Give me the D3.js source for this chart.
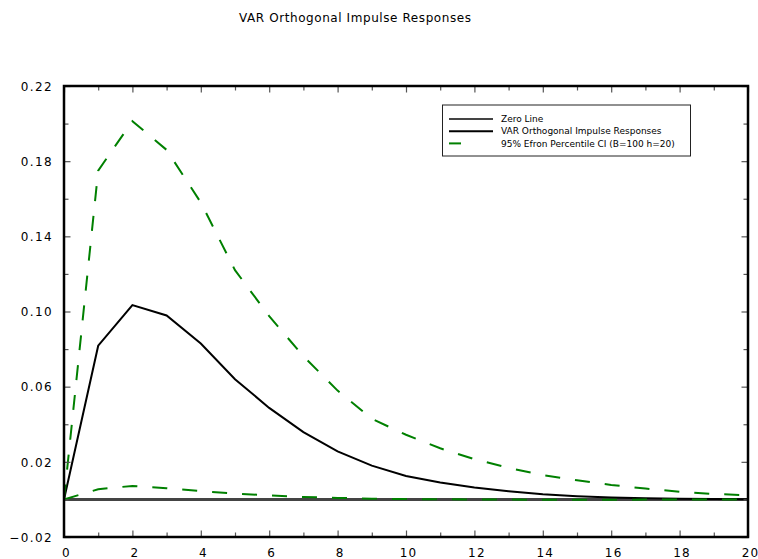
<!DOCTYPE html>
<html>
<head>
<meta charset="utf-8">
<script src="https://cdn.jsdelivr.net/npm/d3@7"></script>
<style>
  html, body { margin: 0; padding: 0; background: #fff; }
  svg { display: block; }
  text { font-family: "DejaVu Sans", sans-serif; fill: #000; }
</style>
</head>
<body>
<svg id="chart" width="758" height="559"></svg>
<script>
// Horizon (periods after the shock)
const horizon = d3.range(0, 21);

// Point estimate of the orthogonal impulse response
const irf = [0, 0.0818, 0.1034, 0.0979, 0.0830, 0.0640, 0.0487, 0.0358, 0.0256, 0.0180,
             0.0125, 0.0090, 0.0064, 0.0044, 0.0028, 0.0017, 0.0010, 0.0006, 0.0003, 0.0002, 0.0001];

// Bootstrap percentile band (upper / lower)
const ciUpper = [0, 0.1750, 0.2013, 0.1860, 0.1580, 0.1220, 0.0975, 0.0762, 0.0579, 0.0429,
                 0.0344, 0.0272, 0.0214, 0.0168, 0.0129, 0.0102, 0.0077, 0.0058, 0.0041, 0.0029, 0.0022];
const ciLower = [0, 0.0054, 0.0072, 0.0060, 0.0044, 0.0031, 0.0022, 0.0013, 0.0008, 0.0004,
                 0.0002, 0.0001, 0.0000, -0.0001, -0.0002, -0.0002, -0.0002, -0.0001, -0.0001, -0.0001, 0];

const xTicks = d3.range(0, 21);
const yTicks = d3.range(-0.02, 0.2201, 0.02).map(v => +v.toFixed(2));
const yLabelTicks = [-0.02, 0.02, 0.06, 0.10, 0.14, 0.18, 0.22];

const titleText = "VAR Orthogonal Impulse Responses";
const legendItems = [
  { label: "Zero Line", color: "#444", dash: null },
  { label: "VAR Orthogonal Impulse Responses", color: "#000", dash: null },
  { label: "95% Efron Percentile CI (B=100 h=20)", color: "#008000", dash: "12,40" }
];

const svg = d3.select("#chart");
const L = 64, R = 748, T = 86, B = 537;

const x = d3.scaleLinear().domain([0, 20]).range([L, R]);
const y = d3.scaleLinear().domain([-0.02, 0.22]).range([B, T]);

// Title
svg.append("text")
  .attr("x", 355).attr("y", 22)
  .attr("text-anchor", "middle")
  .attr("font-size", 12)
  .attr("textLength", 232)
  .text(titleText);

// Zero line
svg.append("line")
  .attr("x1", x(0)).attr("x2", x(20))
  .attr("y1", y(0)).attr("y2", y(0))
  .attr("stroke", "#444").attr("stroke-width", 3);

const line = d3.line().x((d, i) => x(horizon[i])).y(d => y(d));

// Point estimate
svg.append("path")
  .datum(irf)
  .attr("d", line)
  .attr("fill", "none")
  .attr("stroke", "#000")
  .attr("stroke-width", 2);

// Confidence band
[ciUpper, ciLower].forEach(series => {
  svg.append("path")
    .datum(series)
    .attr("d", line)
    .attr("fill", "none")
    .attr("stroke", "#008000")
    .attr("stroke-width", 2)
    .attr("stroke-dasharray", "15,15");
});

// Axes with inward ticks on all four sides
const isMajorX = v => v % 2 === 0;
const isMajorY = v => yLabelTicks.some(t => Math.abs(t - v) < 1e-9);

function styleTicks(g, majorFn, horizontal, sign) {
  g.select(".domain").remove();
  g.selectAll(".tick line")
    .attr("stroke", "#555")
    .attr("stroke-width", 1.2)
    .each(function(d) {
      const len = (majorFn(d) ? 6.5 : 4.5) * sign;
      d3.select(this).attr(horizontal ? "y2" : "x2", len);
    });
}

const gBottom = svg.append("g").attr("transform", `translate(0,${B})`)
  .call(d3.axisBottom(x).tickValues(xTicks).tickSizeOuter(0).tickSize(0)
    .tickFormat(d => isMajorX(d) ? d3.format("d")(d) : ""));
styleTicks(gBottom, isMajorX, true, -1);
gBottom.selectAll(".tick text")
  .attr("y", 20).attr("dy", 0).attr("dx", 2)
  .attr("font-size", 12).attr("letter-spacing", 1.2)
  .attr("font-family", "DejaVu Sans").attr("fill", "#000");

const gTop = svg.append("g").attr("transform", `translate(0,${T})`)
  .call(d3.axisTop(x).tickValues(xTicks).tickSize(0).tickFormat(""));
styleTicks(gTop, isMajorX, true, 1);

const gLeft = svg.append("g").attr("transform", `translate(${L},0)`)
  .call(d3.axisLeft(y).tickValues(yTicks).tickSize(0)
    .tickFormat(d => isMajorY(d) ? (d < 0 ? "\u2212" + d3.format(".2f")(-d) : d3.format(".2f")(d)) : ""));
styleTicks(gLeft, isMajorY, false, 1);
gLeft.selectAll(".tick text")
  .attr("x", -11).attr("dy", "0.36em")
  .attr("font-size", 12).attr("letter-spacing", 1.4)
  .attr("font-family", "DejaVu Sans").attr("fill", "#000");

const gRight = svg.append("g").attr("transform", `translate(${R},0)`)
  .call(d3.axisRight(y).tickValues(yTicks).tickSize(0).tickFormat(""));
styleTicks(gRight, isMajorY, false, -1);

// Plot frame
svg.append("rect")
  .attr("x", L).attr("y", T)
  .attr("width", R - L).attr("height", B - T)
  .attr("fill", "none").attr("stroke", "#000").attr("stroke-width", 2.5);

// Legend
const lg = svg.append("g").attr("transform", "translate(442.5,105)");
lg.append("rect")
  .attr("width", 248).attr("height", 51)
  .attr("fill", "#fff").attr("stroke", "#222").attr("stroke-width", 1);
legendItems.forEach((it, i) => {
  const yy = 14 + i * 12.2;
  lg.append("line")
    .attr("x1", 6.5).attr("x2", 50.5)
    .attr("y1", yy).attr("y2", yy)
    .attr("stroke", it.color).attr("stroke-width", 2)
    .attr("stroke-dasharray", it.dash);
  lg.append("text")
    .attr("x", 58.5).attr("y", yy).attr("dy", "0.35em")
    .attr("font-size", 9)
    .text(it.label);
});
</script>
</body>
</html>
